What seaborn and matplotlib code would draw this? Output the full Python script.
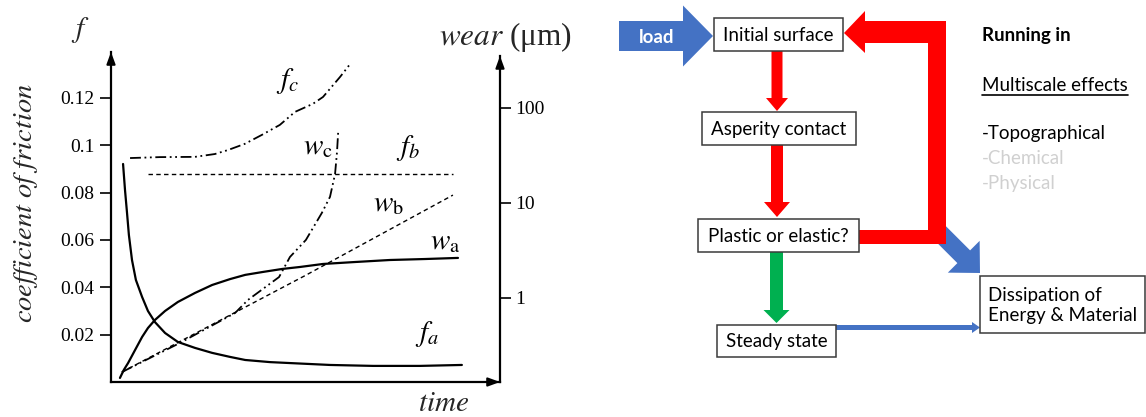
import numpy as np
import pandas as pd
import matplotlib
matplotlib.use("Agg")
import matplotlib.pyplot as plt
import seaborn as sns
from matplotlib.patches import FancyArrow, Polygon, Rectangle
from matplotlib.ticker import FixedLocator, FixedFormatter, NullLocator

# ------------------------------------------------------------------ data
# friction curves (left axis, linear)
time_fa = [3.1, 3.6, 4.1, 4.6, 5.4, 6.4, 8.0, 9.5, 11.3, 13.9, 17.2, 21.6, 26.0,
           30.6, 34.5, 40.9, 46.0, 56.3, 67.4, 79.4, 90.2]
fric_fa = [0.0921, 0.0811, 0.0718, 0.0621, 0.0515, 0.0431, 0.0359, 0.0300, 0.0253,
           0.0207, 0.0169, 0.0144, 0.0123, 0.0106, 0.0093, 0.0084, 0.0080, 0.0072,
           0.0068, 0.0068, 0.0072]
time_fb = [9.5, 87.9]
fric_fb = [0.088, 0.088]
time_fc = [4.9, 12.6, 21.6, 26.7, 30.1, 34.4, 38.8, 43.4, 47.3, 51.9, 54.5, 58.9, 61.7]
fric_fc = [0.0946, 0.0950, 0.0951, 0.0963, 0.0980, 0.1006, 0.1044, 0.1086, 0.1141,
           0.1175, 0.1204, 0.1289, 0.1348]

# wear curves (right axis, log)
time_wa = [2.3, 3.3, 4.4, 6.2, 8.0, 9.5, 11.3, 13.9, 17.2, 21.6, 26.0, 30.6, 34.5,
           39.1, 44.0, 48.6, 54.5, 62.7, 71.7, 80.7, 89.2]
wear_wa = [0.144, 0.175, 0.207, 0.284, 0.389, 0.483, 0.587, 0.730, 0.908, 1.13, 1.37,
           1.58, 1.75, 1.88, 2.02, 2.12, 2.28, 2.39, 2.51, 2.57, 2.64]
time_wb = [2.8, 49.9, 87.9]
wear_wb = [0.166, 1.72, 12.1]
time_wc = [2.8, 17.7, 31.9, 35.2, 43.2, 46.0, 50.1, 54.2, 56.3, 57.6, 58.1, 58.4]
wear_wc = [0.166, 0.336, 0.695, 0.953, 1.66, 2.70, 4.08, 7.85, 11.6, 20.2, 34.4, 55.9]

f_ticks = [0.02, 0.04, 0.06, 0.08, 0.1, 0.12]
f_tick_labels = ["0.02", "0.04", "0.06", "0.08", "0.1", "0.12"]
wear_ticks = [1, 10, 100]
wear_tick_labels = ["1", "10", "100"]

curve_names = [r"$f_c$", r"$w_\mathrm{c}$", r"$f_b$", r"$w_\mathrm{b}$", r"$w_\mathrm{a}$", r"$f_a$"]

flow_nodes = ["Initial surface", "Asperity contact", "Plastic or elastic?",
              "Steady state", "Dissipation of\nEnergy & Material"]
load_label = "load"
side_notes = ["Running in", "Multiscale effects", "-Topographical", "-Chemical", "-Physical"]

# ------------------------------------------------------------------ style / layout
W, H = 1146, 417
sns.set_theme(style="white")
plt.rcParams["font.family"] = ["Liberation Serif", "DejaVu Serif"]
plt.rcParams["mathtext.fontset"] = "stix"

fig = plt.figure(figsize=(W / 100, H / 100), dpi=100)
fig.patch.set_facecolor("white")

ax = fig.add_axes([111 / W, 1 - 382 / H, 389 / W, 330 / H])
ax.set_facecolor("none")
axr = ax.twinx()
axr.set_yscale("log")

solid = dict(color="black", linewidth=1.6)
dashed = dict(color="black", linewidth=1.0, linestyle=(0, (3.2, 2.4)))
dashdot2 = dict(color="black", linewidth=1.3, linestyle=(0, (6, 2, 1, 2, 1, 2)))

sns.lineplot(x=time_fa, y=fric_fa, ax=ax, **solid)
sns.lineplot(x=time_fb, y=fric_fb, ax=ax, **dashed)
sns.lineplot(x=time_fc, y=fric_fc, ax=ax, **dashdot2)
sns.lineplot(x=time_wa, y=wear_wa, ax=axr, **solid)
sns.lineplot(x=time_wb, y=wear_wb, ax=axr, **dashed)
sns.lineplot(x=time_wc, y=wear_wc, ax=axr, **dashdot2)

ax.set_xlim(0, 100)
ax.set_ylim(0, 0.1394)
axr.set_ylim(0.1305, 388)

for a in (ax, axr):
    for s in a.spines.values():
        s.set_visible(False)
ax.spines["left"].set_visible(True)
ax.spines["bottom"].set_visible(True)
axr.spines["right"].set_visible(True)
for s in (ax.spines["left"], ax.spines["bottom"], axr.spines["right"]):
    s.set_color("black")
    s.set_linewidth(1.6)
axr.spines["right"].set_bounds(0.1305, 352)

ax.set_xticks([])
ax.yaxis.set_major_locator(FixedLocator(f_ticks))
ax.yaxis.set_major_formatter(FixedFormatter(f_tick_labels))
ax.tick_params(axis="y", left=True, direction="out", length=8, width=1.2,
               colors="black", labelsize=14, pad=4)
axr.yaxis.set_major_locator(FixedLocator(wear_ticks))
axr.yaxis.set_major_formatter(FixedFormatter(wear_tick_labels))
axr.yaxis.set_minor_locator(NullLocator())
axr.tick_params(axis="y", which="major", right=True, direction="out", length=8,
                width=1.2, colors="black", labelsize=14, pad=3)
ax.set_xlabel("")
ax.set_ylabel("")
axr.set_ylabel("")

arrow_kw = dict(arrowstyle="-|>,head_length=0.6,head_width=0.22", color="black", lw=1.4,
                shrinkA=0, shrinkB=0)
ax.annotate("", xy=(0, 1.0), xytext=(0, 0.95), xycoords="axes fraction",
            arrowprops=arrow_kw, annotation_clip=False)
ax.annotate("", xy=(1.0, 0), xytext=(0.95, 0), xycoords="axes fraction",
            arrowprops=arrow_kw, annotation_clip=False)
ax.annotate("", xy=(1, 0.988), xytext=(1, 0.94), xycoords="axes fraction",
            arrowprops=arrow_kw, annotation_clip=False)

label_pos = [(45.5, 0.127), (53.2, 0.0993), (76.3, 0.0989), (71.2, 0.0752),
             (85.9, 0.0591), (81.2, 0.0203)]
for name, (tx, ty) in zip(curve_names, label_pos):
    ax.text(tx, ty, name, fontsize=21, ha="center", va="center", color="black")

fig.text(80 / W, 1 - 30 / H, r"$f$", fontsize=21, ha="center", va="center")
fig.text(572 / W, 1 - 37 / H, r"$wear$ (μm)", fontsize=22.5, ha="right", va="center")
fig.text(444 / W, 1 - 404 / H, r"$time$", fontsize=21, ha="center", va="center")
fig.text(26 / W, 1 - 203 / H, r"$coefficient\ of\ friction$", fontsize=20.5,
         rotation=90, ha="center", va="center")

# ------------------------------------------------------------------ flowchart
fa = fig.add_axes([0, 0, 1, 1], zorder=5)
fa.set_xlim(0, W)
fa.set_ylim(H, 0)
fa.axis("off")
fa.patch.set_visible(False)

BLUE = "#4472C4"
RED = "#FF0000"
GREEN = "#00B050"
sans = ["Lato", "DejaVu Sans"]

boxes = [(714, 18, 129, 33), (702, 112, 154, 33), (698, 219, 161, 33),
         (717, 325, 119, 32), (980, 276, 165, 57)]
for i, (label, (bx, by, bw, bh)) in enumerate(zip(flow_nodes, boxes)):
    fa.add_patch(Rectangle((bx, by), bw, bh, facecolor="white", edgecolor="#3a3a3a",
                           linewidth=1.1, zorder=3))
    if "\n" in label:
        fa.text(bx + 8, by + bh / 2 + 1, label, family=sans, fontsize=13.5, ha="left",
                va="center", color="black", zorder=4, linespacing=1.25)
    else:
        fa.text(bx + bw / 2, by + bh / 2 + 1, label, family=sans, fontsize=13.5,
                ha="center", va="center", color="black", zorder=4)

def arrow(x, y, dx, dy, w, hw, hl, color, z=2):
    fa.add_patch(FancyArrow(x, y, dx, dy, width=w, head_width=hw, head_length=hl,
                            length_includes_head=True, facecolor=color,
                            edgecolor="none", zorder=z))

arrow(619, 36, 94, 0, 30, 61, 30, BLUE)
fa.text(657, 37, load_label, family=sans, fontsize=13.5, fontweight="bold",
        color="white", ha="center", va="center", zorder=4)
arrow(777, 51, 0, 60, 11, 22, 13, RED)
arrow(777, 145, 0, 72, 12, 26, 15, RED)
arrow(776.5, 252, 0, 71, 13, 26, 13, GREEN)
arrow(836, 327.5, 144, 0, 5, 11, 8, BLUE)
arrow(937, 230, 43, 43, 18, 45, 23, BLUE, z=1.5)

feedback = [(859, 230), (928, 230), (928, 43), (865, 43), (865, 53), (844, 33),
            (865, 11), (865, 21), (946, 21), (946, 244), (859, 244)]
fa.add_patch(Polygon(feedback, closed=True, facecolor=RED, edgecolor="none", zorder=2))

note_y = [35, 85, 133, 158, 183]
note_col = ["black", "black", "black", "#d0d0d0", "#d0d0d0"]
note_w = ["bold", "normal", "normal", "normal", "normal"]
texts = []
for s, yy, c, wgt in zip(side_notes, note_y, note_col, note_w):
    texts.append(fa.text(982, yy, s, family=sans, fontsize=13.5, color=c,
                         fontweight=wgt, ha="left", va="center", zorder=4))

fig.canvas.draw()
bb = texts[1].get_window_extent()
inv = fa.transData.inverted()
(x0, _), (x1, _) = inv.transform([(bb.x0, bb.y0), (bb.x1, bb.y0)])
fa.plot([x0, x1], [95, 95], color="black", linewidth=1.2, zorder=4)

fig.savefig("out.png", dpi=100, facecolor="white")
